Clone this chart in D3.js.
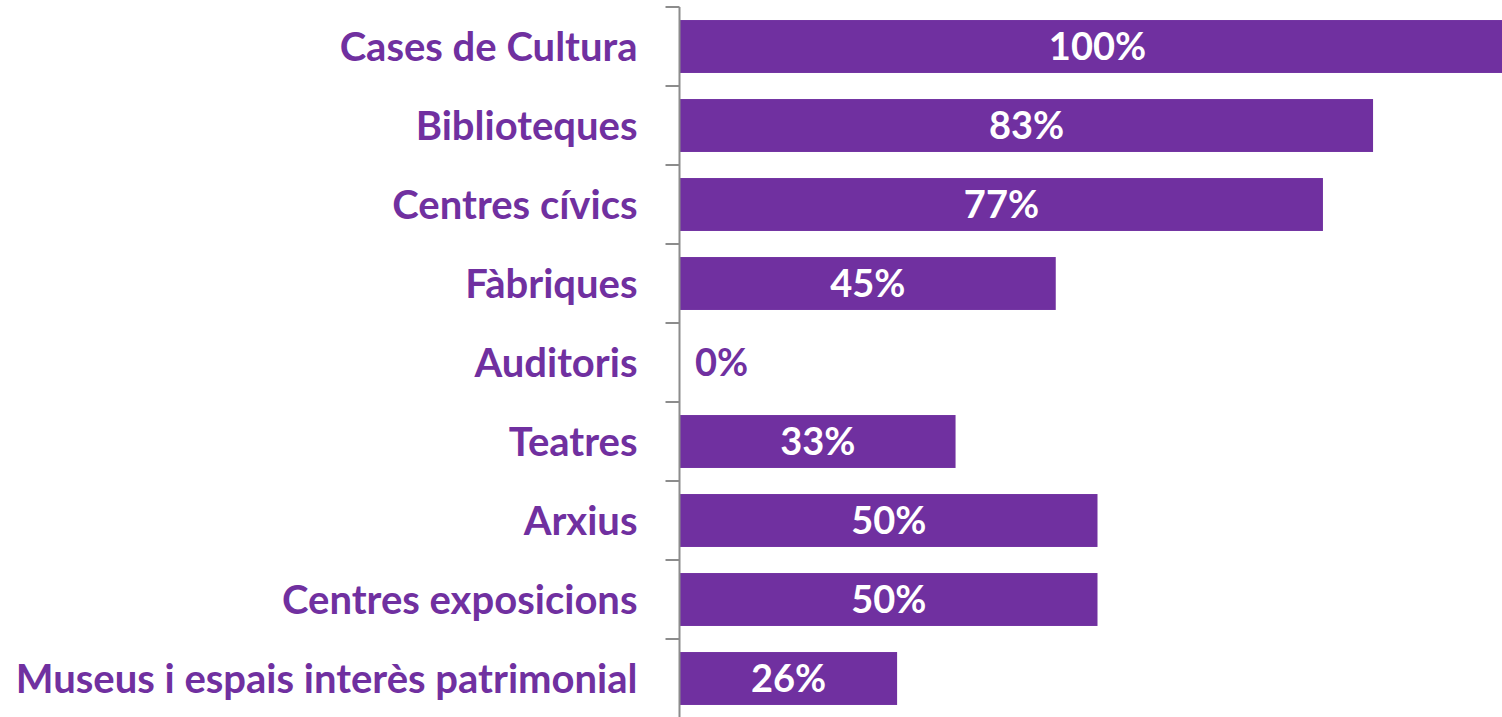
<!DOCTYPE html>
<html>
<head>
<meta charset="utf-8">
<script src="https://cdn.jsdelivr.net/npm/d3@7"></script>
<style>
  html, body { margin: 0; padding: 0; background: #fff; }
  svg { display: block; }
</style>
</head>
<body>
<svg id="chart" width="1502" height="717"></svg>
<script>
// Share of each type of cultural facility
const categories = [
  "Cases de Cultura",
  "Biblioteques",
  "Centres cívics",
  "Fàbriques",
  "Auditoris",
  "Teatres",
  "Arxius",
  "Centres exposicions",
  "Museus i espais interès patrimonial"
];
const values = [100, 83, 77, 45, 0, 33, 50, 50, 26];

const purple = "#7030A0";
const svg = d3.select("#chart");

const axisX = 679.5;
const x = d3.scaleLinear().domain([0, 100]).range([axisX + 0.5, axisX + 0.5 + 835]);
const y = d3.scaleBand().domain(categories).range([7, 718]).paddingInner(0.33).paddingOuter(0.165);

// bars
svg.append("g")
  .selectAll("rect")
  .data(categories)
  .join("rect")
  .attr("x", x(0))
  .attr("y", d => y(d))
  .attr("width", (d, i) => x(values[i]) - x(0))
  .attr("height", y.bandwidth())
  .attr("fill", purple);

// category axis with ticks at band boundaries
const axis = svg.append("g");
axis.append("line")
  .attr("x1", axisX).attr("x2", axisX)
  .attr("y1", 7).attr("y2", 717)
  .attr("stroke", "#8c8c8c").attr("stroke-width", 2);
const step = y.step();
const boundaries = d3.range(categories.length + 1).map(i => 7 + i * step);
axis.selectAll("line.tick")
  .data(boundaries)
  .join("line")
  .attr("class", "tick")
  .attr("x1", axisX - 14).attr("x2", axisX)
  .attr("y1", d => d).attr("y2", d => d)
  .attr("stroke", "#8c8c8c").attr("stroke-width", 2);

// category labels
svg.append("g")
  .selectAll("text")
  .data(categories)
  .join("text")
  .attr("x", axisX - 42)
  .attr("y", d => y(d) + y.bandwidth() / 2)
  .attr("dy", "0.35em")
  .attr("text-anchor", "end")
  .attr("font-family", "Lato, 'Open Sans', sans-serif")
  .attr("font-weight", "bold")
  .attr("font-size", 40)
  .attr("fill", purple)
  .text(d => d);

// value labels
svg.append("g")
  .selectAll("text")
  .data(categories)
  .join("text")
  .attr("x", (d, i) => values[i] === 0 ? x(0) + 15 : (x(0) + x(values[i])) / 2)
  .attr("y", d => y(d) + y.bandwidth() / 2)
  .attr("dy", "0.36em")
  .attr("text-anchor", (d, i) => values[i] === 0 ? "start" : "middle")
  .attr("font-family", "Lato, 'Open Sans', sans-serif")
  .attr("font-weight", "bold")
  .attr("font-size", 38)
  .attr("fill", (d, i) => values[i] === 0 ? purple : "#ffffff")
  .text((d, i) => values[i] + "%");
</script>
</body>
</html>
